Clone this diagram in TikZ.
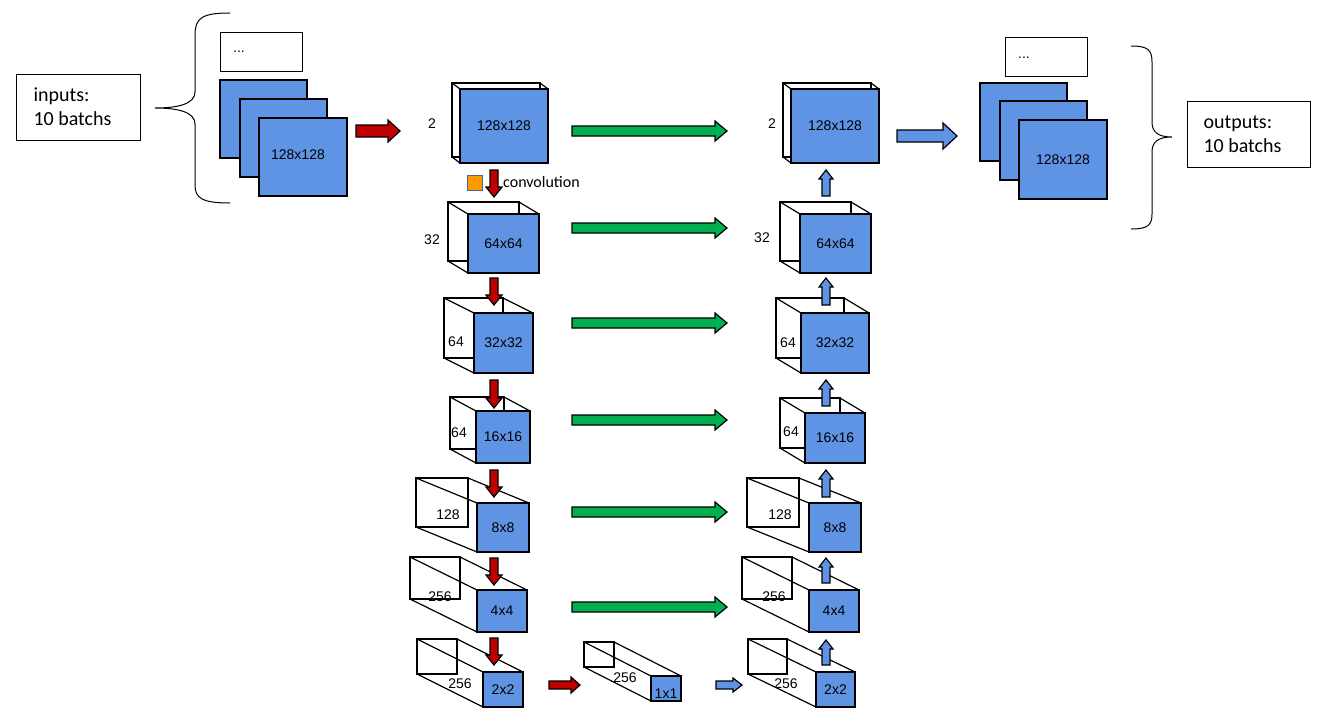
\documentclass[tikz,border=0pt]{standalone}
\usepackage{fontspec}
\setmainfont{Liberation Sans}
\newfontfamily\carl{Carlito}
\definecolor{blu}{RGB}{95,148,229}
\definecolor{grn}{RGB}{0,176,80}
\definecolor{dred}{RGB}{192,0,0}
\definecolor{org}{RGB}{255,153,0}
\tikzset{cl/.style={draw=black,line width=1.2pt,line join=miter},
 lab/.style={font=\fontsize{14}{14}\selectfont,inner sep=0pt},
 box/.style={draw=black,line width=1pt,fill=white}}
\newcommand\cub[8]{%
 \draw[cl,fill=white] ({#1+#5},{#2+#6}) rectangle ({#3+#5},{#4+#6});
 \draw[cl] ({#1+#5},{#2+#6})--(#1,#2) ({#3+#5},{#2+#6})--(#3,#2) ({#1+#5},{#4+#6})--(#1,#4);
 \draw[cl,fill=blu] (#1,#2) rectangle (#3,#4);
 \node[lab] (#8) at ({(#1+#3)/2},{(#2+#4)/2}) {#7};}
\newcommand\harr[7]{\draw[cl,fill=#7] (#1,{#3-#4}) -- ({#2-#6},{#3-#4}) -- ({#2-#6},{#3-#5}) -- (#2,#3) -- ({#2-#6},{#3+#5}) -- ({#2-#6},{#3+#4}) -- (#1,{#3+#4}) -- cycle;}
\newcommand\varr[7]{\draw[cl,fill=#7] ({#1-#4},#2) -- ({#1-#4},{#3-#6}) -- ({#1-#5},{#3-#6}) -- (#1,#3) -- ({#1+#5},{#3-#6}) -- ({#1+#4},{#3-#6}) -- ({#1+#4},#2) -- cycle;}
\begin{document}
\begin{tikzpicture}[x=1pt,y=-1pt]
\useasboundingbox (0,0) rectangle (1322,718);
% input group
\node[box,minimum width=124pt,minimum height=66pt,anchor=north west] (in) at (16,74) {};
\node[font=\carl\fontsize{20}{24}\selectfont,align=left,anchor=west] at (30,107) {inputs:\\10 batchs};
\draw[line width=1pt] (230,13) .. controls (202,13) and (195,18) .. (195,35) -- (195,92) .. controls (195,104) and (178,108) .. (155,108) .. controls (178,108) and (195,112) .. (195,124) -- (195,185) .. controls (195,198) and (202,203) .. (230,203);
\node[box,minimum width=82pt,minimum height=39pt,anchor=north west] (dots1) at (220,32) {};
\node[lab,anchor=west] at (233,52) {...};
\draw[cl,fill=blu] (220,80) rectangle (307,158);
\draw[cl,fill=blu] (240,99) rectangle (327,177);
\draw[cl,fill=blu] (259,118) rectangle (347,196);
\node[lab] (i3) at (298,155) {128x128};
\harr{356}{400}{131}{6}{11}{12}{dred}
% output group
\harr{897}{957}{136}{6}{13}{14}{blu}
\node[box,minimum width=82pt,minimum height=39pt,anchor=north west] (dots2) at (1005,37) {};
\node[lab,anchor=west] at (1018,58) {...};
\draw[cl,fill=blu] (980,83) rectangle (1067,161);
\draw[cl,fill=blu] (1000,101) rectangle (1087,180);
\draw[cl,fill=blu] (1019,120) rectangle (1107,199);
\node[lab] (o3) at (1063,160) {128x128};
\draw[line width=1pt] (1131,46) .. controls (1148,46) and (1152,50) .. (1152,62) -- (1152,122) .. controls (1152,132) and (1158,137) .. (1172,137) .. controls (1158,137) and (1152,142) .. (1152,152) -- (1152,214) .. controls (1152,225) and (1148,229) .. (1131,229);
\node[box,minimum width=123pt,minimum height=66pt,anchor=north west] (out) at (1187,101) {};
\node[font=\carl\fontsize{20}{24}\selectfont,align=left,anchor=west] at (1200,134) {outputs:\\10 batchs};
% left column
\cub{460}{89}{548}{163}{-8}{-6}{128x128}{L1}
\cub{468}{214}{539}{273}{-20}{-12}{64x64}{L2}
\cub{474}{313}{533}{373}{-30}{-15}{32x32}{L3}
\cub{476}{411}{530}{463}{-26}{-14}{16x16}{L4}
\cub{477}{503}{529}{552}{-61}{-25}{8x8}{L5}
\cub{477}{590}{527}{632}{-67}{-33}{4x4}{L6}
\cub{483}{672}{523}{707}{-66}{-33}{2x2}{L7}
\node[lab] at (432,124) {2};
\node[lab] at (432,240) {32};
\node[lab] at (456,342) {64};
\node[lab] at (459,433) {64};
\node[lab] at (448,515) {128};
\node[lab] at (440,597) {256};
\node[lab] at (460,684) {256};
% bottom middle
\cub{651}{676}{681}{701}{-67}{-34}{}{M}
\node[lab] at (666,694) {1x1};
\node[lab] at (625,678) {256};
\harr{549}{580}{685}{4}{8}{9}{dred}
\harr{716}{742}{685}{4}{7}{9}{blu}
% right column
\cub{791}{89}{879}{163}{-8}{-6}{128x128}{R1}
\cub{800}{214}{871}{273}{-20}{-12}{64x64}{R2}
\cub{801}{313}{869}{373}{-25}{-15}{32x32}{R3}
\cub{805}{413}{865}{463}{-25}{-15}{16x16}{R4}
\cub{809}{503}{861}{552}{-62}{-25}{8x8}{R5}
\cub{809}{590}{859}{632}{-67}{-33}{4x4}{R6}
\cub{816}{672}{855}{707}{-68}{-33}{2x2}{R7}
\node[lab] at (772,124) {2};
\node[lab] at (762,238) {32};
\node[lab] at (788,343) {64};
\node[lab] at (791,432) {64};
\node[lab] at (780,515) {128};
\node[lab] at (774,597) {256};
\node[lab] at (786,684) {256};
% green skip arrows
\foreach \y in {131,228,323,420,512,607} {\harr{572}{727}{\y}{5}{10}{12}{grn}}
% red down arrows
\foreach \a/\b in {170/197,278/305,380/408,470/497,558/585,638/665} {\varr{494}{\a}{\b}{4}{8}{10}{dred}}
% blue up arrows
\foreach \a/\b in {196/170,305/278,406/380,497/470,583/558,665/640} {\varr{826}{\a}{\b}{4}{7}{-9}{blu}}
\draw[line width=1pt,draw=blu!70!black,fill=org] (467,175) rectangle (482,190);
\node[font=\carl\fontsize{16}{16}\selectfont,anchor=west,inner sep=0pt] (conv) at (503,182) {convolution};
\end{tikzpicture}
\end{document}
